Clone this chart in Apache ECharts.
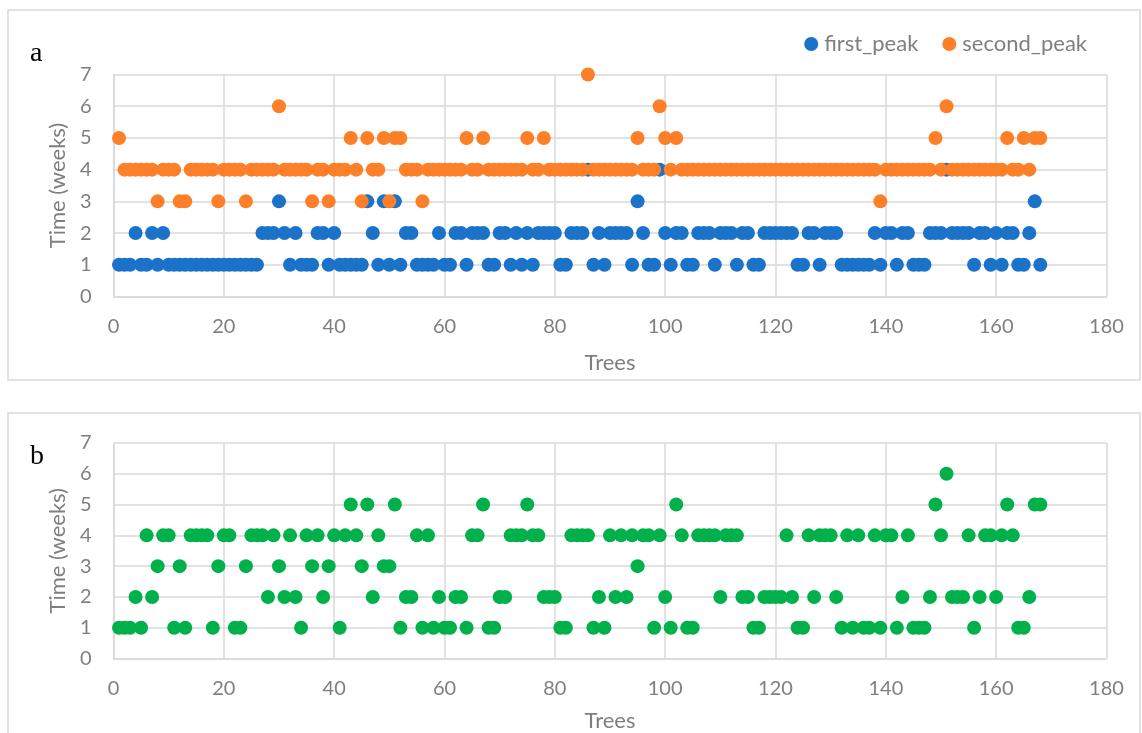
<!DOCTYPE html>
<html>
<head>
<meta charset="utf-8">
<script src="https://cdn.jsdelivr.net/npm/echarts@6/dist/echarts.min.js"></script>
<style>
  html, body { margin: 0; padding: 0; background: #ffffff; }
  #chart { width: 1142px; height: 733px; }
</style>
</head>
<body>
<div id="chart"></div>
<script>
// Peak timing (weeks) per tree, trees numbered 1..168
const firstPeak = [
  1,1,1,2,1,1,2,1,2,1,
  1,1,1,1,1,1,1,1,1,1,
  1,1,1,1,1,1,2,2,2,3,
  2,1,2,1,1,1,2,2,1,2,
  1,1,1,1,1,3,2,1,3,1,
  3,1,2,2,1,1,1,1,2,1,
  1,2,2,1,2,2,2,1,1,2,
  2,1,2,1,2,1,2,2,2,2,
  1,1,2,2,2,4,1,2,1,2,
  2,2,2,1,3,2,1,1,4,2,
  1,2,2,1,1,2,2,2,1,2,
  2,2,1,2,2,1,1,2,2,2,
  2,2,2,1,1,2,2,1,2,2,
  2,1,1,1,1,1,1,2,1,2,
  2,1,2,2,1,1,1,2,2,2,
  4,2,2,2,2,1,2,2,1,2,
  1,2,2,1,1,2,3,1
];

const secondPeak = [
  5,4,4,4,4,4,4,3,4,4,
  4,3,3,4,4,4,4,4,3,4,
  4,4,4,3,4,4,4,4,4,6,
  4,4,4,4,4,3,4,4,3,4,
  4,4,5,4,3,5,4,4,5,3,
  5,5,4,4,4,3,4,4,4,4,
  4,4,4,5,4,4,5,4,4,4,
  4,4,4,4,5,4,4,5,4,4,
  4,4,4,4,4,7,4,4,4,4,
  4,4,4,4,5,4,4,4,6,5,
  4,5,4,4,4,4,4,4,4,4,
  4,4,4,4,4,4,4,4,4,4,
  4,4,4,4,4,4,4,4,4,4,
  4,4,4,4,4,4,4,4,3,4,
  4,4,4,4,4,4,4,4,5,4,
  6,4,4,4,4,4,4,4,4,4,
  4,5,4,4,5,4,5,5
];

const selectedPeak = [
  1,1,1,2,1,4,2,3,4,4,
  1,3,1,4,4,4,4,1,3,4,
  4,1,1,3,4,4,4,2,4,3,
  2,4,2,1,4,3,4,2,3,4,
  1,4,5,4,3,5,2,4,3,3,
  5,1,2,2,4,1,4,1,2,1,
  1,2,2,1,4,4,5,1,1,2,
  2,4,4,4,5,4,4,2,2,2,
  1,1,4,4,4,4,1,2,1,4,
  2,4,2,4,3,4,4,1,4,2,
  1,5,4,1,1,4,4,4,4,2,
  4,4,4,2,2,1,1,2,2,2,
  2,4,2,1,1,4,2,4,4,4,
  2,1,4,1,4,1,1,4,1,4,
  4,1,2,4,1,1,1,2,5,4,
  6,2,2,2,4,1,2,4,4,2,
  4,5,4,1,1,2,5,5
];

const xTicks = [0, 20, 40, 60, 80, 100, 120, 140, 160, 180];
const yTicks = [0, 1, 2, 3, 4, 5, 6, 7];

// pair each value with its tree number
const toPoints = vals => vals.map((v, i) => [i + 1, v]);

const GRID_COLOR = '#d9d9d9';
const TEXT_COLOR = '#7f7f7f';
const FONT = 'Lato, "Open Sans", sans-serif';
const SERIF = '"Liberation Serif", "DejaVu Serif", serif';

function xAxisFor(gridIndex, nameGap) {
  return {
    type: 'value', gridIndex,
    min: xTicks[0], max: xTicks[xTicks.length - 1], interval: xTicks[1] - xTicks[0],
    name: 'Trees', nameLocation: 'middle', nameGap,
    nameTextStyle: { color: TEXT_COLOR, fontSize: 22, fontFamily: FONT },
    axisLine: { show: true, lineStyle: { color: GRID_COLOR, width: 1.5 } },
    axisTick: { show: false },
    splitLine: { show: true, lineStyle: { color: GRID_COLOR, width: 1.5 } },
    axisLabel: { color: TEXT_COLOR, fontSize: 20, fontFamily: FONT, margin: 20 }
  };
}

function yAxisFor(gridIndex) {
  return {
    type: 'value', gridIndex,
    min: yTicks[0], max: yTicks[yTicks.length - 1], interval: yTicks[1] - yTicks[0],
    name: 'Time (weeks)', nameLocation: 'middle', nameGap: 43,
    nameTextStyle: { color: TEXT_COLOR, fontSize: 22, fontFamily: FONT },
    axisLine: { show: true, lineStyle: { color: GRID_COLOR, width: 1.5 } },
    axisTick: { show: false },
    splitLine: { show: true, lineStyle: { color: GRID_COLOR, width: 1.5 } },
    axisLabel: { color: TEXT_COLOR, fontSize: 20, fontFamily: FONT, margin: 22 }
  };
}

const chart = echarts.init(document.getElementById('chart'), null, { renderer: 'canvas' });

chart.setOption({
  animation: false,
  backgroundColor: '#ffffff',
  graphic: [
    { type: 'rect', shape: { x: 8, y: 10, width: 1132, height: 370 },
      style: { fill: 'none', stroke: GRID_COLOR, lineWidth: 1.5 }, z: -10 },
    { type: 'rect', shape: { x: 8, y: 413, width: 1132, height: 340 },
      style: { fill: 'none', stroke: GRID_COLOR, lineWidth: 1.5 }, z: -10 },
    { type: 'text', left: 30, top: 40,
      style: { text: 'a', fontSize: 28, fontFamily: SERIF, fill: '#000000' } },
    { type: 'text', left: 30, top: 443,
      style: { text: 'b', fontSize: 28, fontFamily: SERIF, fill: '#000000' } }
  ],
  legend: {
    data: ['first_peak', 'second_peak'],
    right: 50, top: 28,
    icon: 'circle', itemWidth: 14, itemHeight: 14, itemGap: 24,
    textStyle: { color: TEXT_COLOR, fontSize: 22, fontFamily: FONT, padding: [0, 0, 0, 1] }
  },
  grid: [
    { left: 113.5, width: 993, top: 74.5, height: 222 },
    { left: 113.5, width: 993, top: 443, height: 215.5 }
  ],
  xAxis: [xAxisFor(0, 55), xAxisFor(1, 51)],
  yAxis: [yAxisFor(0), yAxisFor(1)],
  series: [
    { name: 'first_peak', type: 'scatter', xAxisIndex: 0, yAxisIndex: 0,
      symbolSize: 14, itemStyle: { color: '#1a73c9', opacity: 1 },
      data: toPoints(firstPeak) },
    { name: 'second_peak', type: 'scatter', xAxisIndex: 0, yAxisIndex: 0,
      symbolSize: 14, itemStyle: { color: '#fd7f28', opacity: 1 },
      data: toPoints(secondPeak) },
    { name: 'peak', type: 'scatter', xAxisIndex: 1, yAxisIndex: 1,
      symbolSize: 14, itemStyle: { color: '#00b04a', opacity: 1 },
      data: toPoints(selectedPeak) }
  ]
});
</script>
</body>
</html>
